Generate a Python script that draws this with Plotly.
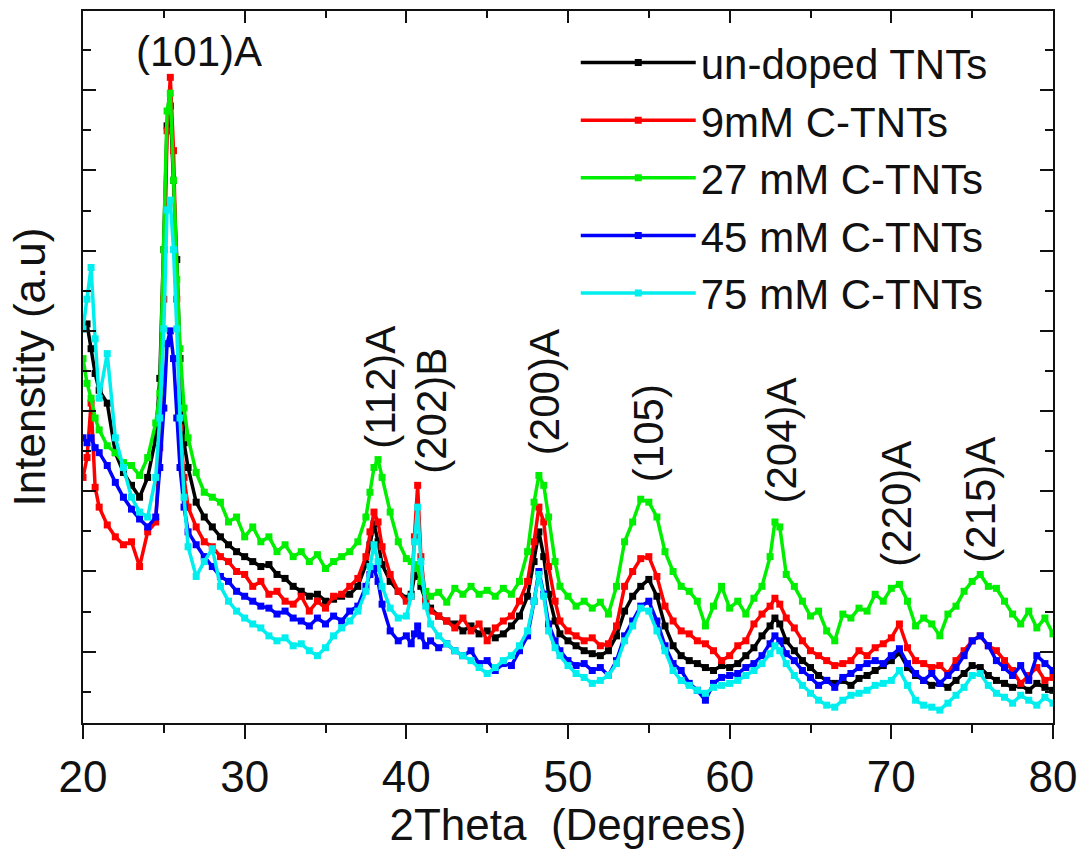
import plotly.graph_objects as go

# 2Theta (degrees)
two_theta = [
    20.0, 20.25, 20.5, 20.75, 21.0, 21.5, 22.0, 22.5, 23.0, 23.5,
    24.0, 24.5, 24.75, 25.0, 25.2, 25.4, 25.6, 25.8, 26.0, 26.25,
    26.5, 27.0, 27.5, 28.0, 28.5, 29.0, 29.5, 30.0, 30.5, 31.0,
    31.5, 32.0, 32.5, 33.0, 33.5, 34.0, 34.5, 35.0, 35.5, 36.0,
    36.5, 37.0, 37.5, 37.75, 38.0, 38.25, 38.5, 39.0, 39.5, 40.0,
    40.3, 40.5, 40.7, 40.9, 41.2, 41.5, 42.0, 42.5, 43.0, 43.5,
    44.0, 44.5, 45.0, 45.5, 46.0, 46.5, 47.0, 47.5, 47.9, 48.2,
    48.5, 48.8, 49.2, 49.5, 50.0, 50.5, 51.0, 51.5, 52.0, 52.5,
    53.0, 53.5, 54.0, 54.5, 55.0, 55.5, 56.0, 56.5, 57.0, 57.5,
    58.0, 58.5, 59.0, 59.5, 60.0, 60.5, 61.0, 61.5, 62.0, 62.5,
    62.8, 63.1, 63.5, 64.0, 64.5, 65.0, 65.5, 66.0, 66.5, 67.0,
    67.5, 68.0, 68.5, 69.0, 69.5, 70.0, 70.5, 71.0, 71.5, 72.0,
    72.5, 73.0, 73.5, 74.0, 74.5, 75.0, 75.5, 76.0, 76.5, 77.0,
    77.5, 78.0, 78.5, 79.0, 79.5, 80.0,
]

# Intensity (a.u.)
undoped = [
    398, 403, 378, 353, 336, 323, 273, 253, 240, 228,
    248, 288, 348, 478, 603, 623, 548, 468, 368, 283,
    258, 223, 208, 198, 188, 180, 173, 168, 163, 158,
    160, 150, 146, 138, 133, 128, 130, 123, 125, 128,
    130, 138, 160, 180, 201, 183, 160, 143, 133, 126,
    130, 148, 158, 138, 123, 116, 108, 103, 100, 93,
    98, 90, 93, 86, 90, 98, 108, 128, 163, 193,
    168, 130, 103, 90, 83, 78, 73, 70, 68, 73,
    88, 113, 128, 138, 145, 128, 98, 78, 68, 63,
    60, 56, 53, 58, 56, 60, 68, 76, 88, 98,
    106, 100, 83, 73, 63, 56, 48, 43, 40, 43,
    38, 45, 48, 53, 58, 63, 71, 56, 48, 43,
    38, 40, 36, 43, 50, 58, 56, 48, 43, 40,
    36, 38, 33, 40, 36, 33,
]

c9mM = [
    248, 268, 323, 238, 218, 200, 188, 180, 183, 158,
    193, 203, 278, 428, 598, 652, 578, 428, 298, 248,
    218, 198, 183, 178, 168, 163, 153, 150, 138, 143,
    130, 133, 123, 120, 128, 113, 123, 116, 128, 130,
    138, 146, 168, 193, 213, 203, 178, 150, 133, 123,
    128, 188, 240, 168, 123, 113, 108, 103, 96, 106,
    93, 100, 83, 96, 103, 108, 123, 143, 183, 218,
    203, 158, 123, 103, 93, 88, 83, 86, 78, 80,
    98, 138, 153, 166, 168, 148, 118, 103, 93, 90,
    83, 80, 73, 63, 68, 78, 83, 100, 110, 118,
    126, 120, 106, 96, 83, 73, 68, 63, 58, 60,
    63, 73, 68, 76, 80, 86, 100, 76, 63, 60,
    56, 58, 50, 63, 73, 83, 88, 78, 73, 63,
    53, 40, 48, 56, 43, 46,
]

c27mM = [
    368, 343, 328, 308, 296, 280, 273, 263, 260, 250,
    268, 303, 333, 478, 618, 636, 548, 448, 378, 318,
    288, 253, 233, 228, 223, 203, 208, 188, 198, 183,
    188, 173, 180, 168, 173, 163, 170, 156, 163, 168,
    173, 183, 208, 233, 258, 266, 248, 213, 183, 166,
    163, 160, 156, 143, 133, 128, 132, 122, 136, 130,
    138, 130, 134, 128, 136, 130, 143, 173, 223, 250,
    240, 208, 163, 138, 128, 118, 123, 116, 122, 110,
    138, 183, 203, 226, 223, 208, 173, 153, 138, 133,
    123, 98, 118, 138, 116, 123, 110, 126, 138, 168,
    203, 198, 150, 138, 123, 108, 113, 93, 83, 110,
    106, 116, 113, 130, 123, 136, 140, 123, 98, 106,
    100, 88, 110, 118, 133, 143, 150, 138, 136, 123,
    110, 100, 113, 96, 106, 90,
]

c45mM = [
    288, 283, 288, 278, 273, 260, 243, 228, 216, 206,
    198, 208, 258, 318, 383, 396, 368, 308, 258, 218,
    193, 180, 168, 158, 148, 143, 133, 128, 123, 118,
    116, 110, 113, 106, 103, 98, 106, 100, 108, 103,
    113, 118, 138, 150, 156, 143, 120, 93, 83, 88,
    80, 90, 98, 88, 78, 83, 76, 80, 73, 68,
    73, 60, 63, 53, 60, 58, 73, 88, 123, 153,
    130, 100, 83, 73, 63, 58, 60, 53, 56, 48,
    63, 88, 103, 118, 123, 103, 78, 60, 53, 40,
    33, 23, 40, 46, 48, 50, 56, 60, 68, 80,
    88, 83, 70, 63, 53, 46, 38, 43, 36, 46,
    50, 56, 60, 63, 60, 68, 75, 60, 50, 43,
    50, 40, 48, 56, 68, 83, 88, 78, 63, 56,
    48, 58, 43, 68, 60, 53,
]

c75mM = [
    398, 428, 460, 388, 328, 373, 288, 258, 228, 213,
    208, 248, 308, 398, 518, 528, 478, 398, 308, 228,
    178, 148, 163, 176, 138, 123, 113, 106, 100, 96,
    88, 83, 86, 78, 80, 73, 68, 76, 88, 96,
    103, 113, 133, 158, 180, 163, 138, 116, 106, 108,
    128, 183, 218, 163, 118, 100, 88, 80, 73, 68,
    63, 56, 50, 56, 63, 68, 78, 93, 123, 150,
    128, 93, 76, 68, 58, 50, 46, 40, 43, 48,
    60, 83, 98, 116, 113, 93, 73, 53, 43, 38,
    33, 30, 36, 38, 40, 43, 48, 53, 60, 70,
    78, 73, 60, 48, 38, 30, 23, 18, 16, 23,
    28, 30, 33, 38, 40, 43, 53, 38, 23, 18,
    16, 13, 20, 28, 36, 48, 50, 38, 30, 26,
    20, 28, 23, 18, 26, 20,
]

series_names = ["un-doped TNTs", "9mM C-TNTs", "27 mM C-TNTs", "45 mM C-TNTs", "75 mM C-TNTs"]
series_values = [undoped, c9mM, c27mM, c45mM, c75mM]
series_colors = ["#000000", "#ff0000", "#00ee00", "#0000ff", "#00eeee"]

peak_labels = ["(101)A", "(112)A", "(202)B", "(200)A", "(105)", "(204)A", "(220)A", "(215)A"]
peak_x = [27.2, 38.4, 41.55, 48.55, 55.0, 63.2, 70.3, 75.5]
peak_y = [678, 275, 250, 268, 241, 220, 156, 160]
peak_angle = [0, -90, -90, -90, -90, -90, -90, -90]

FONT = "Liberation Sans, Arial, sans-serif"

fig = go.Figure()
for name, vals, col in zip(series_names, series_values, series_colors):
    fig.add_trace(go.Scatter(
        x=two_theta, y=vals, name=name, mode="lines+markers",
        line=dict(color=col, width=3.5),
        marker=dict(symbol="square", size=7, color=col, line=dict(width=0)),
    ))

# invisible trace to carry the top axis
fig.add_trace(go.Scatter(x=[20, 80], y=[None, None], xaxis="x2", showlegend=False,
                         hoverinfo="skip", mode="lines"))

for txt, xx, yy, ang in zip(peak_labels, peak_x, peak_y, peak_angle):
    fig.add_annotation(x=xx, y=yy, text=txt, showarrow=False, textangle=ang,
                       xanchor="center", yanchor="middle" if ang == 0 else "bottom",
                       font=dict(family=FONT, size=42, color="#111"))

fig.update_layout(
    width=1086, height=849, autosize=False,
    margin=dict(l=83, r=28, t=9, b=121),
    paper_bgcolor="white", plot_bgcolor="white",
    font=dict(family=FONT, color="#111"),
    showlegend=True,
    legend=dict(x=0.508, y=0.975, xanchor="left", yanchor="top",
                bgcolor="rgba(0,0,0,0)", borderwidth=0,
                font=dict(family=FONT, size=42, color="#111"),
                itemwidth=115, tracegroupgap=0),
    xaxis=dict(range=[20, 80], tickmode="linear", tick0=0, dtick=10,
               ticks="outside", ticklen=14, tickwidth=2, tickcolor="#111",
               minor=dict(ticks="outside", ticklen=8, tickwidth=2, tickcolor="#111", dtick=5, tick0=0),
               showline=True, linewidth=2, linecolor="#111", mirror=True,
               showgrid=False, zeroline=False,
               tickfont=dict(family=FONT, size=44, color="#111"),
               title=dict(text="2Theta\u00a0\u00a0(Degrees)",
                          font=dict(family=FONT, size=44, color="#111"), standoff=8)),
    xaxis2=dict(range=[20, 80], overlaying="x", side="top", anchor="y",
                tickmode="linear", tick0=0, dtick=10,
                ticks="inside", ticklen=12, tickwidth=2, tickcolor="#111",
                minor=dict(ticks="inside", ticklen=7, tickwidth=2, tickcolor="#111", dtick=5, tick0=0),
                showline=False, showgrid=False, zeroline=False, showticklabels=False),
    yaxis=dict(range=[0, 719], tickmode="linear", tick0=72, dtick=81,
               ticks="inside", ticklen=13, tickwidth=2, tickcolor="#111",
               minor=dict(ticks="inside", ticklen=8, tickwidth=2, tickcolor="#111", dtick=40.5, tick0=31.5),
               showline=True, linewidth=2, linecolor="#111", mirror="ticks",
               showgrid=False, zeroline=False, showticklabels=False,
               title=dict(text="Intenstity (a.u)", font=dict(family=FONT, size=44, color="#111"),
                          standoff=22)),
)

fig.write_html("out.html")
